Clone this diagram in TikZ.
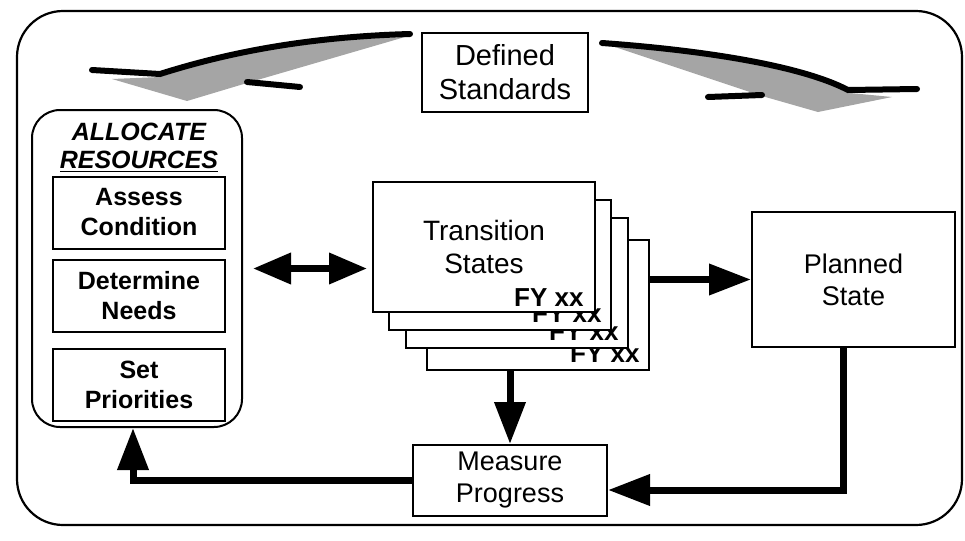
\documentclass[tikz,border=0pt]{standalone}
\usepackage{fontspec}
\setmainfont{Liberation Sans}
\usetikzlibrary{calc, arrows.meta, positioning}
\definecolor{stipple}{RGB}{165,165,165}

\begin{document}
\begin{tikzpicture}
    [
        x=0.5pt, y=-0.5pt,
        box/.style={draw, line width=1pt, align=center, inner sep=0pt,
            font=\fontsize{13.5}{16}\selectfont},
        subbox/.style={draw, line width=1pt, align=center, inner sep=0pt,
            minimum width=86pt, minimum height=36pt,
            font=\fontsize{12.5}{15}\selectfont\bfseries},
        sheet/.style={draw, fill=white, line width=1pt,
            minimum width=111pt, minimum height=65pt, inner sep=0pt},
        fylabel/.style={anchor=base east, inner sep=0pt,
            font=\fontsize{13}{15}\selectfont\bfseries},
        title/.style={anchor=base, inner sep=0pt,
            font=\fontsize{12.5}{15}\selectfont\bfseries\itshape}
    ]
    \tikzstyle{heavy} = [draw, line width=3.5pt, -{Triangle[length=21pt,width=15pt]}]
    \tikzstyle{twoway} = [draw, line width=3.5pt, {Triangle[length=19pt,width=15pt]}-{Triangle[length=19pt,width=15pt]}]
    \tikzstyle{ribbon} = [draw, line width=3pt, line cap=round]

    \useasboundingbox (0,0) rectangle (965,541);

    % Outer frame
    \draw[line width=1.1pt, rounded corners=23pt] (17,11) rectangle (962,525);

    % Standards box and the two ribbon arrows
    \node[box, minimum width=83pt, minimum height=39.5pt,
        font=\fontsize{14.5}{17}\selectfont] (std) at (505,72.5) {Defined\\Standards};

    \fill[stipple] (112,79) -- (160,77) .. controls (220,57) and (300,40) .. (405,37)
        -- (247,83) -- (187,101) -- cycle;
    \draw[ribbon] (92,70) -- (160,74) .. controls (220,55) and (300,37) .. (410,34);
    \draw[ribbon] (247,82) -- (300,87);

    \fill[stipple] (612,46) .. controls (700,53) and (800,68) .. (850,93)
        -- (892,97) -- (818,112) -- (762,96) -- cycle;
    \draw[ribbon] (602,43) .. controls (700,50) and (800,65) .. (848,90) -- (917,89);
    \draw[ribbon] (708,97) -- (762,95);

    % Resource allocation block
    \node[draw, line width=1pt, rounded corners=14pt, minimum width=105pt,
        minimum height=158.5pt] (alloc) at (137,268.5) {};
    \node[title] (alloc_t1) at (139,140) {ALLOCATE};
    \node[title] (alloc_t2) at (139,168) {\underline{RESOURCES}};
    \node[subbox] (assess) at (139,212.5) {Assess\\Condition};
    \node[subbox, below=4.5pt of assess] (needs) {Determine\\Needs};
    \node[subbox, below=7.5pt of needs] (prio) {Set\\Priorities};

    % Stack of transition sheets, back to front
    \node[sheet] (st4) at (538,305) {};
    \node[fylabel] (fy4) at ($(st4.south east)+(-10,-9)$) {FY xx};
    \node[sheet] (st3) at (517,283) {};
    \node[fylabel] (fy3) at ($(st3.south east)+(-10,-9)$) {FY xx};
    \node[sheet] (st2) at (500,265) {};
    \node[fylabel] (fy2) at ($(st2.south east)+(-10,-9)$) {FY xx};
    \node[sheet, align=center, font=\fontsize{14}{16.5}\selectfont] (st1) at (484,247) {Transition\\States};
    \node[fylabel] (fy1) at ($(st1.south east)+(-12,-7)$) {FY xx};

    % Planned state and progress check
    \node[box, minimum width=101.5pt, minimum height=67.5pt] (plan) at (853.5,279.5) {Planned\\State};
    \node[box, minimum width=97pt, minimum height=35.5pt] (meas) at (510,480.5) {Measure\\Progress};

    % Connectors
    \path[twoway, shorten <=5pt, shorten >=2.5pt] (alloc.east) -- (st1.west |- alloc.east);
    \path[heavy] (st4.east |- plan.west) -- (plan.west);
    \path[heavy] (meas.north |- st4.south) -- (meas.north);

    \coordinate (ret) at (843,490);
    \path[heavy] (plan.south -| ret) -- (ret) -- (meas.east |- ret);

    \coordinate (lret) at (133,480);
    \path[heavy] (meas.west |- lret) -- (lret) -- (lret |- alloc.south);
\end{tikzpicture}
\end{document}
